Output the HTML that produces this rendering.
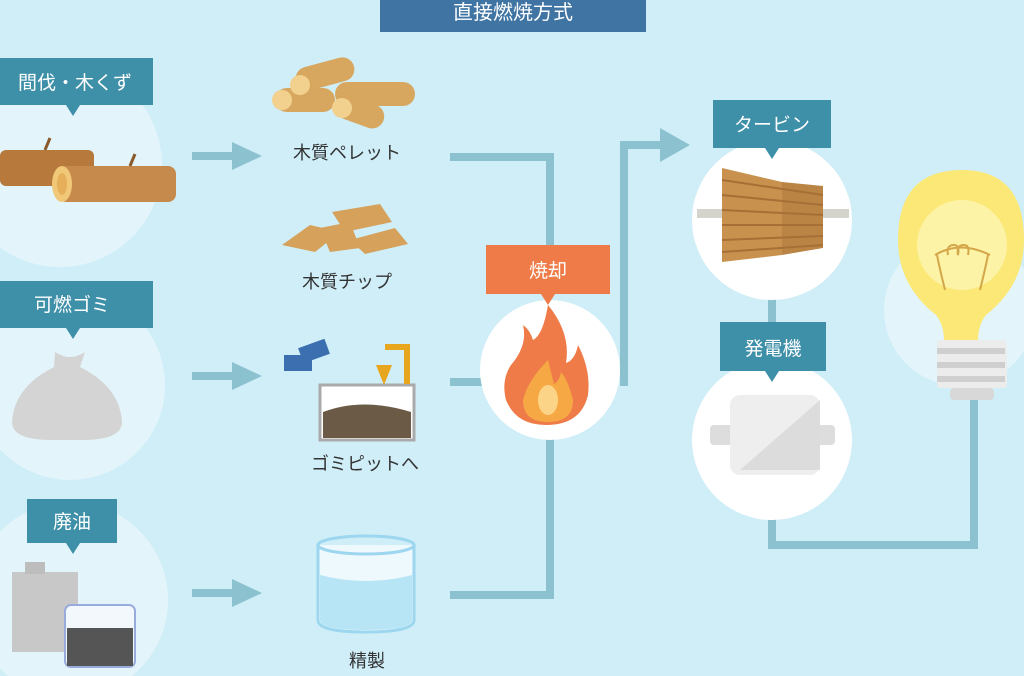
<!DOCTYPE html>
<html><head><meta charset="utf-8"><style>
html,body{margin:0;padding:0;background:#cfeef8;}
svg{display:block;font-family:"Liberation Sans","Noto Sans CJK JP",sans-serif;}
</style></head><body>
<svg width="1024" height="676" viewBox="0 0 1024 676" xmlns="http://www.w3.org/2000/svg">
<rect width="1024" height="676" fill="#cfeef8"/>
<!-- left circles -->
<circle cx="60" cy="165" r="102" fill="#e3f5fb"/>
<circle cx="70" cy="385" r="95" fill="#e3f5fb"/>
<circle cx="70" cy="600" r="98" fill="#e3f5fb"/>
<circle cx="960" cy="310" r="76" fill="#e3f5fb"/>
<!-- connectors -->
<g fill="none" stroke="#8cc2cf" stroke-width="8">
<polyline points="450,157 550,157 550,250"/>
<line x1="450" y1="382" x2="485" y2="382"/>
<polyline points="450,595 550,595 550,430"/>
<polyline points="624,386 624,145 662,145"/>
<line x1="772" y1="290" x2="772" y2="330"/>
<polyline points="772,510 772,545 974,545 974,395"/>
</g>
<polygon points="660,128 690,145 660,162" fill="#8cc2cf"/>
<g fill="#8cc2cf">
<rect x="192" y="152" width="42" height="8"/><polygon points="232,142 262,156 232,170"/>
<rect x="192" y="372" width="42" height="8"/><polygon points="232,362 262,376 232,390"/>
<rect x="192" y="589" width="42" height="8"/><polygon points="232,579 262,593 232,607"/>
</g>
<!-- title -->
<rect x="380" y="-2" width="266" height="34" fill="#3f74a3"/>
<text x="513" y="19" font-size="20" fill="#fff" text-anchor="middle">直接燃焼方式</text>
<!-- left labels -->
<rect x="0" y="58" width="153" height="47" fill="#3e8fa8"/><polygon points="66,105 80,105 73,116" fill="#3e8fa8"/>
<text x="75" y="89" font-size="19" fill="#fff" text-anchor="middle">間伐・木くず</text>
<rect x="0" y="281" width="153" height="47" fill="#3e8fa8"/><polygon points="66,328 80,328 73,339" fill="#3e8fa8"/>
<text x="72" y="311" font-size="19" fill="#fff" text-anchor="middle">可燃ゴミ</text>
<rect x="27" y="499" width="90" height="44" fill="#3e8fa8"/><polygon points="66,543 80,543 73,554" fill="#3e8fa8"/>
<text x="72" y="528" font-size="19" fill="#fff" text-anchor="middle">廃油</text>
<!-- logs -->
<rect x="0" y="150" width="94" height="36" rx="6" fill="#b77a3c"/>
<rect x="58" y="166" width="118" height="36" rx="8" fill="#c58a4c"/>
<ellipse cx="62" cy="184" rx="10" ry="18" fill="#f1c877"/>
<ellipse cx="62" cy="184" rx="5" ry="11" fill="#e6b05b"/>
<path d="M45 150 l5 -12 M130 166 l5 -12" stroke="#8a5a2a" stroke-width="3"/>
<!-- trash bag -->
<path d="M55 352 q15 10 30 0 l-5 15 q40 20 42 55 q0 18 -40 18 h-30 q-40 0 -40 -18 q2 -35 42 -55z" fill="#d4d4d4"/>
<!-- oil can and beaker -->
<rect x="12" y="572" width="66" height="80" fill="#c8c8c8"/><rect x="25" y="562" width="20" height="12" fill="#bdbdbd"/>
<rect x="65" y="605" width="70" height="62" rx="6" fill="#f2f8fb" stroke="#9ad" stroke-width="2"/>
<rect x="67" y="628" width="66" height="38" fill="#555"/>
<!-- pellets -->
<g fill="#d8a75f">
<rect x="275" y="88" width="60" height="24" rx="12"/>
<rect x="295" y="62" width="60" height="24" rx="12" transform="rotate(-15 325 74)"/>
<rect x="335" y="82" width="80" height="24" rx="12"/>
<rect x="335" y="100" width="50" height="24" rx="12" transform="rotate(20 360 112)"/>
</g>
<g fill="#f2d18e"><circle cx="282" cy="100" r="10"/><circle cx="300" cy="85" r="10"/><circle cx="342" cy="108" r="10"/></g>
<text x="347" y="159" font-size="18" fill="#333" text-anchor="middle">木質ペレット</text>
<!-- chips -->
<g fill="#d6a15a"><polygon points="282,245 310,225 340,232 315,252"/><polygon points="332,212 380,204 392,222 345,232"/><polygon points="350,240 395,228 408,244 365,254"/><polygon points="320,228 350,222 360,248 330,252"/></g>
<text x="347" y="288" font-size="18" fill="#333" text-anchor="middle">木質チップ</text>
<!-- garbage pit -->
<rect x="320" y="385" width="94" height="55" fill="#fff" stroke="#aaa" stroke-width="3"/>
<path d="M323 412 q40 -15 88 0 v26 h-88z" fill="#6b5a45"/>
<rect x="284" y="355" width="28" height="16" fill="#3b6fb0"/><rect x="300" y="343" width="28" height="16" fill="#3b6fb0" transform="rotate(-20 314 351)"/>
<rect x="404" y="344" width="6" height="40" fill="#e8a61e"/><rect x="385" y="344" width="25" height="6" fill="#e8a61e"/>
<polygon points="376,365 392,365 384,385" fill="#e8a61e"/>
<text x="365" y="470" font-size="18" fill="#333" text-anchor="middle">ゴミピットへ</text>
<!-- beaker -->
<path d="M318 545 v75 q0 12 48 12 q48 0 48 -12 v-75" fill="#eef9fd" stroke="#9dd6ef" stroke-width="3"/>
<path d="M320 575 q46 12 92 0 v45 q0 10 -46 10 q-46 0 -46 -10z" fill="#b8e5f5"/>
<ellipse cx="366" cy="545" rx="48" ry="9" fill="none" stroke="#9dd6ef" stroke-width="3"/>
<text x="367" y="667" font-size="18" fill="#333" text-anchor="middle">精製</text>
<!-- fire -->
<circle cx="550" cy="370" r="70" fill="#fff"/>
<rect x="486" y="245" width="124" height="49" fill="#ee7b48"/><polygon points="541,294 555,294 548,305" fill="#ee7b48"/>
<text x="548" y="277" font-size="19" fill="#fff" text-anchor="middle">焼却</text>
<path d="M548 305 q-5 30 -15 35 q-3 -10 -10 -15 q5 20 -12 40 q-10 15 -5 35 q10 25 40 25 q35 0 42 -30 q3 -25 -10 -50 q-3 15 -12 18 q5 -30 -18 -58z" fill="#ee7b48"/>
<path d="M548 360 q-20 20 -25 40 q0 22 25 22 q25 0 25 -22 q-5 -20 -12 -28 q-2 10 -7 12z" fill="#f6a845"/>
<ellipse cx="548" cy="400" rx="10" ry="15" fill="#fbd487"/>
<!-- turbine -->
<circle cx="772" cy="220" r="80" fill="#fff"/>
<rect x="713" y="100" width="118" height="48" fill="#3e8fa8"/><polygon points="765,148 779,148 772,159" fill="#3e8fa8"/>
<text x="772" y="131" font-size="19" fill="#fff" text-anchor="middle">タービン</text>
<rect x="697" y="209" width="152" height="9" fill="#d4d4cc"/>
<polygon points="722,168 782,182 782,255 722,262" fill="#c8924e"/>
<polygon points="782,182 823,186 823,248 782,255" fill="#ba8445"/>
<g stroke="#a66f35" stroke-width="2"><line x1="722" y1="180" x2="823" y2="195"/><line x1="722" y1="195" x2="823" y2="205"/><line x1="722" y1="210" x2="823" y2="215"/><line x1="722" y1="225" x2="823" y2="225"/><line x1="722" y1="240" x2="823" y2="236"/><line x1="722" y1="252" x2="823" y2="245"/></g>
<!-- generator -->
<circle cx="772" cy="440" r="80" fill="#fff"/>
<rect x="720" y="322" width="106" height="49" fill="#3e8fa8"/><polygon points="765,371 779,371 772,382" fill="#3e8fa8"/>
<text x="773" y="355" font-size="19" fill="#fff" text-anchor="middle">発電機</text>
<rect x="710" y="425" width="125" height="20" rx="4" fill="#ddd"/>
<rect x="730" y="395" width="90" height="80" rx="10" fill="#eee"/>
<path d="M820 400 v70 h-80z" fill="#dcdcdc"/>
<!-- bulb -->
<path d="M962 170 q62 0 62 70 q0 45 -38 75 q-8 10 -8 26 h-34 q0 -16 -8 -26 q-38 -30 -38 -75 q0 -70 64 -70z" fill="#fbe876"/>
<circle cx="962" cy="245" r="45" fill="#fdf3a6"/>
<path d="M945 290 q-5 -20 -8 -35 M980 290 q5 -20 8 -35 M935 255 q25 -15 55 0 M948 255 q-2 -10 6 -10 q6 0 4 10 q-2 -10 6 -10 q6 0 4 10" fill="none" stroke="#d4a74a" stroke-width="2"/>
<rect x="937" y="340" width="70" height="48" rx="4" fill="#ececec"/>
<g fill="#cfcfcf"><rect x="937" y="348" width="68" height="6"/><rect x="937" y="362" width="68" height="6"/><rect x="937" y="376" width="68" height="6"/></g>
<rect x="950" y="388" width="44" height="12" rx="4" fill="#d8d8d8"/>
</svg>
</body></html>
